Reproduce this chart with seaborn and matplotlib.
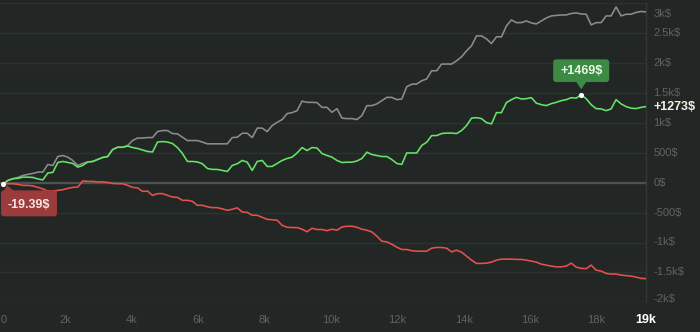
import numpy as np
import pandas as pd
import matplotlib
matplotlib.use("Agg")
import matplotlib.pyplot as plt
from matplotlib.patches import FancyBboxPatch, Polygon
import seaborn as sns

# Hands played (x axis), one sample every 150 hands
hands = np.arange(135, 19486, 150)

# Net winnings ($)
net_won = [-19.39, 38, 67, 72, 93, 93, 88, 63, 47, 163,
           172, 338, 355, 338, 322, 260, 288, 347, 355, 388,
           422, 438, 555, 593, 593, 613, 588, 572, 547, 522,
           513, 680, 688, 680, 655, 588, 488, 355, 355, 347,
           317, 238, 222, 222, 205, 188, 288, 317, 372, 343,
           205, 355, 372, 272, 272, 322, 372, 405, 427, 497,
           588, 538, 588, 580, 488, 455, 427, 372, 338, 343,
           343, 363, 405, 510, 472, 455, 438, 438, 388, 322,
           305, 497, 497, 497, 622, 677, 788, 788, 822, 830,
           830, 822, 872, 955, 1080, 1088, 1072, 1005, 983, 1172,
           1172, 1339, 1389, 1427, 1400, 1405, 1422, 1330, 1305, 1289,
           1322, 1344, 1372, 1389, 1422, 1414, 1469, 1405, 1305, 1239,
           1234, 1205, 1234, 1389, 1317, 1272, 1247, 1239, 1260, 1273]

# All-in adjusted winnings ($)
allin_ev = [-19.39, 38, 67, 88, 122, 138, 155, 177, 177, 305,
            288, 438, 455, 427, 372, 288, 322, 347, 355, 388,
            422, 438, 555, 593, 593, 622, 705, 747, 747, 755,
            755, 855, 872, 872, 822, 817, 760, 705, 705, 705,
            680, 650, 650, 650, 650, 650, 755, 760, 827, 827,
            755, 913, 913, 855, 955, 1010, 1055, 1155, 1172, 1205,
            1364, 1344, 1344, 1339, 1260, 1260, 1177, 1239, 1080, 1072,
            1072, 1055, 1122, 1289, 1289, 1317, 1372, 1427, 1427, 1389,
            1400, 1605, 1647, 1650, 1705, 1734, 1872, 1872, 1984, 1984,
            1984, 2039, 2105, 2205, 2289, 2455, 2455, 2405, 2327, 2439,
            2439, 2622, 2722, 2677, 2677, 2705, 2672, 2655, 2705, 2755,
            2789, 2797, 2805, 2805, 2830, 2839, 2822, 2817, 2639, 2677,
            2677, 2789, 2789, 2939, 2789, 2817, 2817, 2847, 2864, 2855]

# Non-showdown winnings ($)
non_showdown = [-19.39, -17, -17, -28, -45, -45, -53, -78, -103, -140,
                -140, -128, -117, -95, -78, -73, 30, 22, 22, 13,
                13, 5, -12, -17, -17, -45, -78, -87, -145, -140,
                -212, -183, -183, -212, -240, -245, -295, -295, -312, -378,
                -378, -403, -417, -417, -437, -462, -445, -420, -490, -495,
                -545, -545, -578, -612, -620, -628, -712, -745, -750, -750,
                -778, -820, -762, -783, -783, -803, -778, -795, -740, -728,
                -728, -745, -778, -795, -823, -895, -978, -990, -1028, -1078,
                -1117, -1117, -1137, -1145, -1145, -1145, -1095, -1083, -1083, -1095,
                -1157, -1128, -1162, -1228, -1295, -1350, -1350, -1345, -1328, -1295,
                -1278, -1278, -1278, -1283, -1283, -1295, -1312, -1328, -1362, -1378,
                -1395, -1407, -1407, -1395, -1345, -1412, -1433, -1437, -1378, -1462,
                -1478, -1517, -1528, -1528, -1545, -1553, -1562, -1578, -1600, -1604]

x_ticks = [0, 2000, 4000, 6000, 8000, 10000, 12000, 14000, 16000, 18000]
x_labels = ["0", "2k", "4k", "6k", "8k", "10k", "12k", "14k", "16k", "18k"]
x_end_label = "19k"
y_ticks = [-2000, -1500, -1000, -500, 0, 500, 1000, 1500, 2000, 2500, 3000]
y_labels = ["-2k$", "-1.5k$", "-1k$", "-500$", "0$", "500$", "1k$",
            "1.5k$", "2k$", "2.5k$", "3k$"]

BG = "#222725"
GRID = "#2c3230"
ZERO = "#4d5250"
TICK = "#5f6461"
colors = {"allin_ev": "#8c8c8c", "non_showdown": "#e8504c", "net_won": "#66e466"}

sns.set_theme(style="dark", rc={"axes.facecolor": BG, "figure.facecolor": BG})
plt.rcParams["font.family"] = ["Liberation Sans", "DejaVu Sans"]

df = pd.concat([
    pd.DataFrame({"hands": hands, "dollars": allin_ev, "series": "allin_ev"}),
    pd.DataFrame({"hands": hands, "dollars": non_showdown, "series": "non_showdown"}),
    pd.DataFrame({"hands": hands, "dollars": net_won, "series": "net_won"}),
])

W, H = 700, 332
fig = plt.figure(figsize=(W / 100, H / 100), dpi=100)
ax_left, ax_right, ax_top, ax_bottom = -1.5, 646.0, 3.3, 302.3
ax = fig.add_axes([ax_left / W, (H - ax_bottom) / H,
                   (ax_right - ax_left) / W, (ax_bottom - ax_top) / H])
ax.set_facecolor(BG)

x_max = hands[-1]
ax.set_xlim(0, x_max)
ax.set_ylim(-2000, 3000)
ax.set_yticks(y_ticks)
ax.set_xticks([])
ax.grid(axis="y", color=GRID, linewidth=1.0)
ax.grid(axis="x", visible=False)
ax.tick_params(length=0, labelleft=False, labelbottom=False)
for side in ["left", "top", "bottom"]:
    ax.spines[side].set_visible(False)
ax.spines["right"].set_color("#333937")
ax.spines["right"].set_linewidth(1.0)
ax.axhline(0, color=ZERO, linewidth=1.6, zorder=1)

sns.lineplot(data=df, x="hands", y="dollars", hue="series",
             hue_order=["allin_ev", "non_showdown", "net_won"],
             palette=colors, linewidth=1.15, legend=False,
             estimator=None, ax=ax, zorder=3)
ax.set_xlabel("")
ax.set_ylabel("")

# y axis labels on the right
for v, lab in zip(y_ticks, y_labels):
    dy = 0
    if v == y_ticks[-1]:
        dy = -10.5
    elif v == y_ticks[0]:
        dy = 3
    ax.annotate(lab, xy=(1, v), xycoords=("axes fraction", "data"),
                xytext=(7.5, dy), textcoords="offset pixels",
                ha="left", va="center", color=TICK, fontsize=8,
                annotation_clip=False)

# x axis labels
for h, lab in zip(x_ticks, x_labels):
    ax.annotate(lab, xy=(h, 0), xycoords=("data", "axes fraction"),
                xytext=(2.5 if h == 0 else 0, -18), textcoords="offset pixels",
                ha="left" if h == 0 else "center", va="center",
                color=TICK, fontsize=8, annotation_clip=False)
ax.annotate(x_end_label, xy=(x_max, 0), xycoords=("data", "axes fraction"),
            xytext=(0, -18), textcoords="offset pixels", ha="center",
            va="center", color="white", fontsize=9, fontweight="bold",
            annotation_clip=False)

# Pixel overlay for callouts
ov = fig.add_axes([0, 0, 1, 1], facecolor="none")
ov.set_xlim(0, W)
ov.set_ylim(H, 0)
ov.axis("off")


def to_px(h, v):
    dx, dy = ax.transData.transform((h, v))
    return dx, H - dy


# final value label
ex, ey = to_px(hands[-1], net_won[-1])
ov.text(654, ey, f"+{net_won[-1]:.0f}$", ha="left", va="center",
        color="#eef3e2", fontsize=9, fontweight="bold")

# peak callout
i_max = int(np.argmax(net_won))
px, py = to_px(hands[i_max], net_won[i_max])
ov.add_patch(FancyBboxPatch((px - 28, py - 35.5), 56, 22.7,
                            boxstyle="round,pad=0,rounding_size=3",
                            facecolor="#3c8b45", edgecolor="none", zorder=5))
ov.add_patch(Polygon([(px - 5, py - 13), (px + 5, py - 13), (px, py - 5.5)],
                     closed=True, facecolor="#3c8b45", edgecolor="none", zorder=5))
ov.text(px, py - 24, f"+{net_won[i_max]:.0f}$", ha="center", va="center",
        color="#eaf5e4", fontsize=9, fontweight="bold", zorder=6)
ov.scatter([px], [py], s=14, color="white", zorder=7, linewidths=0)

# starting value callout
sx, sy = to_px(hands[0], non_showdown[0])
ov.add_patch(FancyBboxPatch((sx - 2, sy + 6.5), 56, 26,
                            boxstyle="round,pad=0,rounding_size=3",
                            facecolor="#9c3b3b", edgecolor="none", zorder=5))
ov.add_patch(Polygon([(sx + 1, sy + 7), (sx + 11, sy + 7), (sx + 4, sy + 1.5)],
                     closed=True, facecolor="#9c3b3b", edgecolor="none", zorder=5))
ov.text(sx + 26, sy + 21.5, f"{non_showdown[0]:.2f}$", ha="center", va="center",
        color="#f6e4e2", fontsize=9, fontweight="bold", zorder=6)
ov.scatter([sx], [sy], s=14, color="white", zorder=7, linewidths=0)

fig.savefig("out.png", dpi=100, facecolor=BG)
